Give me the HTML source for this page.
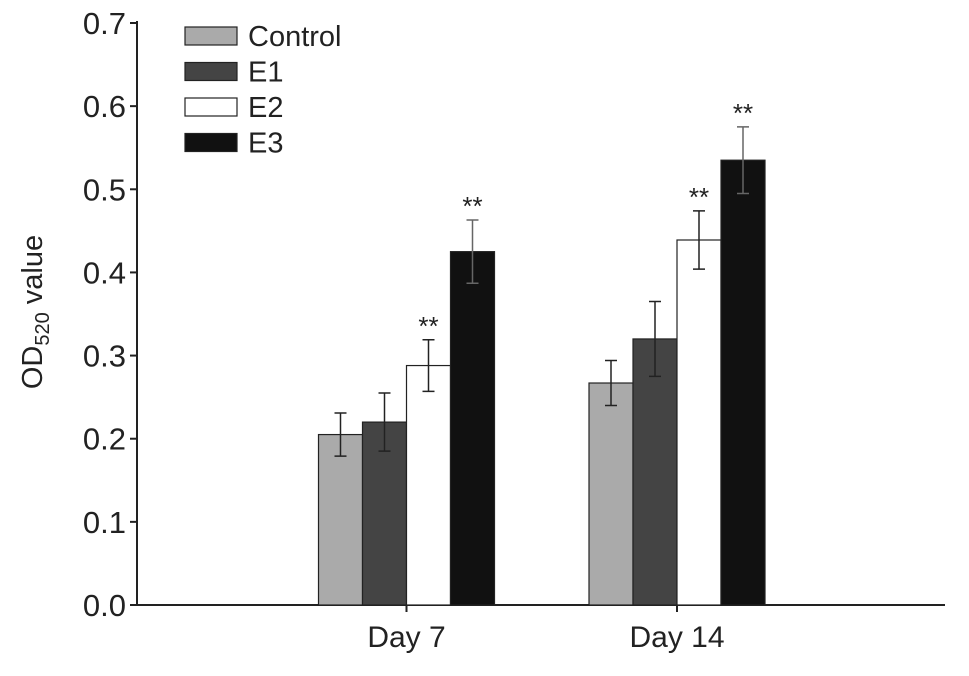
<!DOCTYPE html>
<html><head><meta charset="utf-8"><style>
html,body{margin:0;padding:0;background:#fff;}
svg text{font-family:"Liberation Sans",Arial,sans-serif;fill:#222;}
</style></head><body>
<svg id="chart" width="969" height="671" viewBox="0 0 969 671">
<g id="axes"></g>
<g id="bars"></g>
<g id="legend"></g>
<text x="42" y="312" font-size="29" text-anchor="middle" transform="rotate(-90 42 312)">OD<tspan font-size="20" dy="7">520</tspan><tspan dy="-7"> value</tspan></text>
</svg>
<script>
const categories = ["Day 7", "Day 14"];
const seriesNames = ["Control", "E1", "E2", "E3"];
const seriesColors = ["#aaaaaa", "#444444", "#ffffff", "#111111"];
const control = [0.205, 0.267];
const e1 = [0.220, 0.320];
const e2 = [0.288, 0.439];
const e3 = [0.425, 0.535];
const controlErr = [0.026, 0.027];
const e1Err = [0.035, 0.045];
const e2Err = [0.031, 0.035];
const e3Err = [0.038, 0.040];
const stars = [["", "", "**", "**"], ["", "", "**", "**"]];
const yTicks = [0.0, 0.1, 0.2, 0.3, 0.4, 0.5, 0.6, 0.7];

const NS = "http://www.w3.org/2000/svg";
const series = [control, e1, e2, e3];
const errs = [controlErr, e1Err, e2Err, e3Err];
const x0 = 137, x1 = 945, yBase = 605, yTop = 23, yMax = 0.7;
const groupCenters = [406.5, 677];
const barW = 44;
function y(v){ return yBase - (v / yMax) * (yBase - yTop); }
function xBar(c, s){ return groupCenters[c] - 2 * barW + s * barW; }
function el(tag, attrs, parent){ const e = document.createElementNS(NS, tag); for (const k in attrs) e.setAttribute(k, attrs[k]); parent.appendChild(e); return e; }

const axes = document.getElementById("axes");
let a = el("line", {x1: x0, y1: yTop - 2, x2: x0, y2: yBase, stroke: "#222", "stroke-width": 2}, axes);


a = el("line", {x1: x0, y1: yBase, x2: x1, y2: yBase, stroke: "#222", "stroke-width": 2}, axes);


yTicks.forEach(t => {
  const tk = el("line", {x1: x0 - 7, y1: y(t), x2: x0, y2: y(t), stroke: "#222", "stroke-width": 2}, axes);
  
  
  const lb = el("text", {x: x0 - 11, y: y(t) + 11, "font-size": 31, "text-anchor": "end"}, axes);
  lb.textContent = t.toFixed(1);
  
  
});
categories.forEach((c, i) => {
  const tk = el("line", {x1: groupCenters[i], y1: yBase, x2: groupCenters[i], y2: yBase + 7, stroke: "#222", "stroke-width": 2}, axes);
  
  
  const lb = el("text", {x: groupCenters[i], y: 647, "font-size": 30, "text-anchor": "middle"}, axes);
  lb.textContent = c;
  
  
});

const bars = document.getElementById("bars");
categories.forEach((c, ci) => {
  series.forEach((s, si) => {
    const v = s[ci], e = errs[si][ci];
    const xb = xBar(ci, si);
    const r = el("rect", {x: xb, y: y(v), width: barW, height: yBase - y(v), fill: seriesColors[si], stroke: "#222", "stroke-width": 1.2}, bars);
    
    
    const cx = xb + barW / 2;
    const eb = el("path", {d: `M${cx},${y(v + e)}V${y(v - e)}M${cx - 6},${y(v + e)}H${cx + 6}M${cx - 6},${y(v - e)}H${cx + 6}`, stroke: si === 3 ? "#666" : "#222", "stroke-width": 1.5, fill: "none"}, bars);
    
    
    if (stars[ci][si]) {
      const st = el("text", {x: cx, y: y(v + e) - 5, "font-size": 26, "text-anchor": "middle"}, bars);
      st.textContent = stars[ci][si];
      
      
    }
  });
});

const legend = document.getElementById("legend");
seriesNames.forEach((n, i) => {
  const ly = 27 + i * 35.5;
  const r = el("rect", {x: 185, y: ly, width: 52, height: 18, fill: seriesColors[i], stroke: "#222", "stroke-width": 1.2}, legend);
  
  
  const t = el("text", {x: 248, y: ly + 19, "font-size": 29}, legend);
  t.textContent = n;
  
  
});
</script>
</body></html>
